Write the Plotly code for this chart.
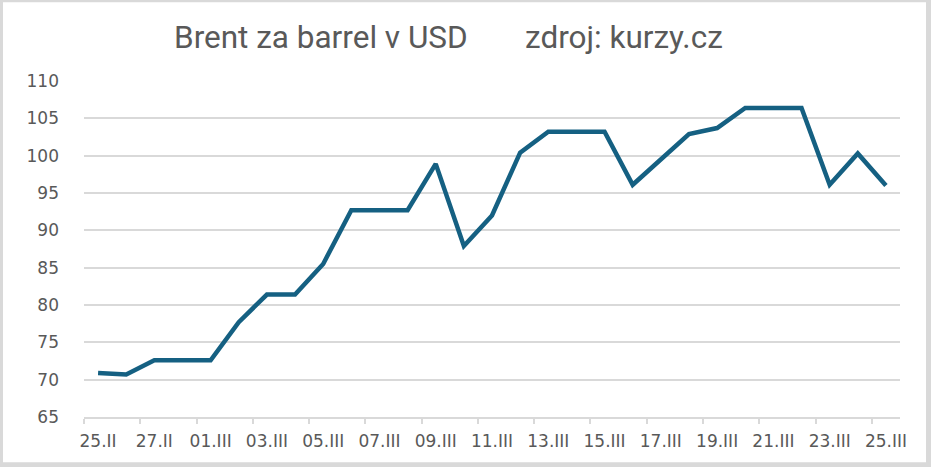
import plotly.graph_objects as go

dates = ["25.II", "26.II", "27.II", "28.II",
         "01.III", "02.III", "03.III", "04.III", "05.III", "06.III", "07.III", "08.III",
         "09.III", "10.III", "11.III", "12.III", "13.III", "14.III", "15.III", "16.III",
         "17.III", "18.III", "19.III", "20.III", "21.III", "22.III", "23.III", "24.III",
         "25.III"]
brent = [70.9, 70.7, 72.6, 72.6, 72.6, 77.7, 81.4, 81.4, 85.5, 92.7, 92.7, 92.7,
         98.9, 87.9, 92.0, 100.4, 103.2, 103.2, 103.2, 96.1, 99.5, 102.9, 103.7,
         106.4, 106.4, 106.4, 96.1, 100.3, 96.0]
title_left = "Brent za barrel v USD"
title_right = "zdroj: kurzy.cz"
y_ticks = [65, 70, 75, 80, 85, 90, 95, 100, 105, 110]

idx = list(range(len(dates)))
tick_idx = idx[::2]
tick_txt = [dates[i] for i in tick_idx]

W, H = 931, 467
L, R, T, B = 84, 31, 80.7, 50.3
pw, ph = W - L - R, H - T - B

def px_x(p):
    return (p - L) / pw

def px_y(p):
    return (H - B - p) / ph

fig = go.Figure()
fig.add_trace(go.Scatter(
    x=idx, y=brent, mode="lines",
    line=dict(color="#156082", width=4.5, shape="linear"),
    hoverinfo="skip", showlegend=False,
))

grey = "#595959"
fig.update_layout(
    width=W, height=H,
    margin=dict(l=L, r=R, t=T, b=B, pad=0),
    paper_bgcolor="#D9D9D9",
    plot_bgcolor="white",
    showlegend=False,
    xaxis=dict(
        range=[-0.5, len(dates) - 0.5],
        tickmode="array", tickvals=tick_idx, ticktext=tick_txt,
        ticks="", showgrid=False, zeroline=False,
        showline=True, linecolor="#D9D9D9", linewidth=1.5,
        tickfont=dict(family="DejaVu Sans", size=17, color=grey),
        ticklabelstandoff=8,
        minor=dict(tickmode="linear", tick0=-0.5, dtick=2, ticks="outside",
                   ticklen=5, tickcolor="#D9D9D9", tickwidth=1.5, showgrid=False),
        fixedrange=True,
    ),
    yaxis=dict(
        range=[65, 110],
        tickmode="array", tickvals=y_ticks,
        ticks="", showgrid=True, gridcolor="#D9D9D9", gridwidth=1.5,
        zeroline=False, showline=False,
        tickfont=dict(family="DejaVu Sans", size=17, color=grey),
        ticklabelstandoff=24,
        fixedrange=True,
    ),
    shapes=[dict(type="rect", xref="paper", yref="paper",
                 x0=px_x(3), x1=px_x(926), y0=px_y(462), y1=px_y(2),
                 fillcolor="white", line=dict(width=0), layer="below")],
    annotations=[
        dict(text=title_left, xref="paper", yref="paper", x=px_x(172), y=px_y(37),
             xanchor="left", yanchor="middle", showarrow=False,
             font=dict(family="Roboto", size=31.5, color=grey)),
        dict(text=title_right, xref="paper", yref="paper", x=px_x(523), y=px_y(37),
             xanchor="left", yanchor="middle", showarrow=False,
             font=dict(family="Roboto", size=31.5, color=grey)),
    ],
)

fig.write_html("out.html", config={"displayModeBar": False},
               post_script="document.body.style.margin='0';document.body.style.overflow='hidden';")
